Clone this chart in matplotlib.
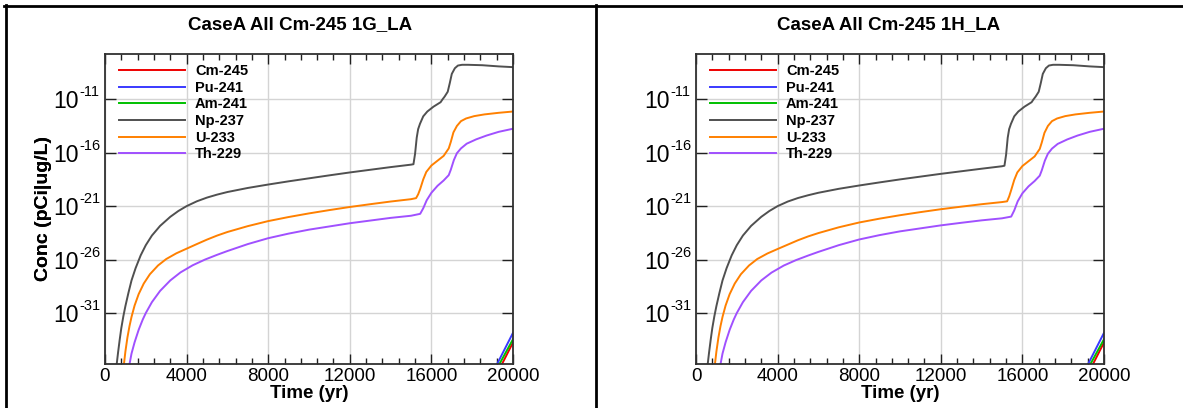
import matplotlib
matplotlib.use("Agg")
import matplotlib.pyplot as plt
from matplotlib.lines import Line2D
from matplotlib.ticker import FixedLocator, MultipleLocator, NullFormatter
import numpy as np

plt.rcParams['font.family'] = ['Liberation Sans', 'DejaVu Sans']

titles = ["CaseA All Cm-245 1G_LA", "CaseA All Cm-245 1H_LA"]
nuclides = ["Cm-245", "Pu-241", "Am-241", "Np-237", "U-233", "Th-229"]
colors = ["#ee0000", "#3a3aff", "#00c000", "#505050", "#ff8000", "#a050ff"]

# ---- times (yr) and log10 concentrations; panel 1G ----
cm_t = [19400, 20000]
cm_g = [-36.0, -33.75]
pu_t = [19160, 20000]
pu_g = [-36.0, -32.85]
am_t = [19270, 20000]
am_g = [-36.0, -33.45]

np_t = [560, 640, 720, 800, 900, 1000, 1150, 1300, 1500, 1750, 2000, 2300, 2700, 3200, 3600,
        4000, 4500, 5000, 5500, 6000, 7000, 8000, 9000, 10000, 11000, 12000, 13000, 14000,
        15000, 15120, 15200, 15280, 15350, 15440, 15600, 15800, 16100, 16450, 16550, 16650,
        16800, 16900, 17000, 17150, 17300, 17500, 17800, 18500, 19300, 20000]
np_g = [-36.0, -34.7, -33.5, -32.4, -31.3, -30.35, -29.1, -27.95, -26.8, -25.6, -24.65, -23.75,
        -22.85, -22.0, -21.45, -21.0, -20.55, -20.2, -19.92, -19.68, -19.3, -18.98, -18.68,
        -18.4, -18.12, -17.85, -17.6, -17.35, -17.12, -17.08, -16.1, -14.6, -13.8, -13.3, -12.6,
        -12.15, -11.7, -11.28, -11.0, -10.75, -10.3, -9.5, -8.63, -8.1, -7.85, -7.78, -7.78,
        -7.82, -7.93, -8.0]

u_t = [915, 1000, 1100, 1200, 1300, 1450, 1650, 1900, 2200, 2600, 3000, 3500, 4000, 4500, 5000,
       5500, 6000, 7000, 8000, 9000, 10000, 11000, 12000, 13000, 14000, 15000, 15250, 15350,
       15450, 15600, 15750, 16000, 16300, 16600, 16850, 16950, 17080, 17250, 17450, 17700,
       18100, 18600, 19300, 20000]
u_g = [-36.0, -34.6, -33.28, -32.23, -31.36, -30.3, -29.23, -28.24, -27.37, -26.55, -25.95,
       -25.41, -24.98, -24.55, -24.13, -23.75, -23.42, -22.87, -22.4, -22.02, -21.68, -21.37,
       -21.08, -20.82, -20.57, -20.35, -20.25, -19.9, -19.4, -18.5, -17.8, -17.2, -16.75, -16.3,
       -15.6, -15.0, -14.1, -13.5, -13.05, -12.8, -12.58, -12.42, -12.27, -12.15]

th_t = [1180, 1300, 1450, 1650, 1850, 2000, 2300, 2700, 3200, 3700, 4300, 4900, 5500, 6000,
        7000, 8000, 9000, 10000, 11000, 12000, 13000, 14000, 15000, 15450, 15600, 15770, 16000,
        16300, 16600, 16850, 16950, 17100, 17250, 17450, 17730, 18200, 18700, 19300, 20000]
th_g = [-36.0, -34.79, -33.74, -32.57, -31.61, -31.0, -29.98, -28.93, -27.95, -27.2, -26.53,
        -26.0, -25.55, -25.2, -24.55, -24.0, -23.57, -23.2, -22.9, -22.6, -22.35, -22.1, -21.9,
        -21.72, -21.2, -20.45, -19.75, -19.1, -18.6, -18.1, -17.6, -16.7, -16.05, -15.6, -15.16,
        -14.75, -14.4, -14.05, -13.76]

# ---- panel 1H ----
cm_h = [-36.0, -33.75]
pu_h = [-36.0, -32.85]
am_h = [-36.0, -33.45]
np_h = [-36.0, -34.7, -33.5, -32.4, -31.3, -30.35, -29.1, -27.95, -26.8, -25.6, -24.65, -23.75,
        -22.85, -22.0, -21.45, -21.0, -20.57, -20.24, -19.98, -19.75, -19.38, -19.07, -18.78,
        -18.5, -18.24, -17.98, -17.74, -17.5, -17.27, -17.22, -16.2, -14.6, -13.8, -13.3, -12.6,
        -12.15, -11.7, -11.28, -11.0, -10.75, -10.3, -9.5, -8.63, -8.1, -7.85, -7.78, -7.78,
        -7.82, -7.93, -8.0]
u_h = [-36.0, -34.6, -33.28, -32.23, -31.36, -30.3, -29.23, -28.24, -27.37, -26.55, -25.95,
       -25.43, -25.01, -24.6, -24.19, -23.83, -23.52, -22.98, -22.53, -22.17, -21.85, -21.56,
       -21.29, -21.05, -20.82, -20.62, -20.55, -20.1, -19.5, -18.55, -17.85, -17.25, -16.8,
       -16.35, -15.65, -15.05, -14.15, -13.5, -13.05, -12.8, -12.58, -12.42, -12.27, -12.15]
th_h = [-36.0, -34.79, -33.74, -32.57, -31.61, -31.0, -29.98, -28.93, -27.95, -27.22, -26.56,
        -26.05, -25.62, -25.28, -24.65, -24.12, -23.71, -23.36, -23.08, -22.8, -22.56, -22.33,
        -22.14, -21.98, -21.4, -20.55, -19.8, -19.15, -18.65, -18.15, -17.65, -16.75, -16.1,
        -15.62, -15.18, -14.76, -14.4, -14.05, -13.76]

series_g = [(cm_t, cm_g), (pu_t, pu_g), (am_t, am_g), (np_t, np_g), (u_t, u_g), (th_t, th_g)]
series_h = [(cm_t, cm_h), (pu_t, pu_h), (am_t, am_h), (np_t, np_h), (u_t, u_h), (th_t, th_h)]

x_ticks = [0, 4000, 8000, 12000, 16000, 20000]
y_exps = [-31, -26, -21, -16, -11]
y_lim = (10 ** -35.72, 10 ** -6.77)

W, H = 1183, 408
fig = plt.figure(figsize=(W / 100, H / 100), dpi=100)
PT = 0.72  # points per pixel


def fx(px):
    return px / W


def fy(py):
    return 1 - py / H


ax_left = [105, 696]
ax_w = 408
ax_top, ax_bot = 54, 363.5
panel_left = [5, 595]
panel_right = [595, 1183]

for i, (series, title) in enumerate(zip([series_g, series_h], titles)):
    ax = fig.add_axes([fx(ax_left[i]), fy(ax_bot), ax_w / W, (ax_bot - ax_top) / H])
    for (t, v), name, c in zip(series, nuclides, colors):
        ax.plot(t, 10.0 ** np.array(v), color=c, lw=1.4, label=name)
    ax.set_yscale('log')
    ax.set_xlim(0, 20000)
    ax.set_ylim(*y_lim)
    ax.xaxis.set_major_locator(FixedLocator(x_ticks))
    ax.xaxis.set_minor_locator(MultipleLocator(800))
    ax.yaxis.set_major_locator(FixedLocator([10.0 ** e for e in y_exps]))
    ax.yaxis.set_minor_locator(FixedLocator([]))
    ax.yaxis.set_major_formatter(NullFormatter())
    ax.grid(True, which='major', color='#d4d4d4', lw=1.0)
    ax.tick_params(axis='both', which='both', direction='in', top=True, right=True,
                   color='#202020')
    ax.tick_params(axis='x', which='major', length=7, width=1, labelsize=13.5, pad=3)
    ax.tick_params(axis='x', which='minor', length=4, width=1)
    ax.tick_params(axis='y', which='major', length=8, width=1)
    for s in ax.spines.values():
        s.set_color('#303030')
        s.set_linewidth(1.3)
    # y tick labels: "10" with a raised exponent
    for e in y_exps:
        ax.annotate('10', xy=(0, 10.0 ** e), xycoords=('axes fraction', 'data'),
                    xytext=(-26 * PT, -9 * PT), textcoords='offset points',
                    ha='right', va='baseline', fontsize=16.5)
        ax.annotate('%d' % e, xy=(0, 10.0 ** e), xycoords=('axes fraction', 'data'),
                    xytext=(-26 * PT, 3 * PT), textcoords='offset points',
                    ha='left', va='baseline', fontsize=10.5)
    ax.set_xlabel('Time (yr)', fontsize=13.5, fontweight='bold', labelpad=0)
    ax.set_ylabel('Conc (pCi|ug/L)', fontsize=14, fontweight='bold')
    ax.yaxis.set_label_coords(-(ax_left[i] - 43) / ax_w, 0.5)
    ax.yaxis.label.set_va('center')
    ax.legend(loc='upper left', bbox_to_anchor=(0.01, 1.0), frameon=False,
              prop={'weight': 'bold', 'size': 10.5}, handlelength=4.5,
              handletextpad=0.7, labelspacing=0.18, borderpad=0.6, borderaxespad=0.1)
    cx = (panel_left[i] + panel_right[i]) / 2
    fig.text(fx(cx), fy(25), title, ha='center', va='center', fontsize=13.5,
             fontweight='bold')

# outer table frame
fig.add_artist(Line2D([fx(4), 1], [fy(5.5), fy(5.5)], color='black', lw=2,
                      transform=fig.transFigure))
for px in [5.5, 595.5]:
    fig.add_artist(Line2D([fx(px), fx(px)], [fy(5), 0], color='black', lw=2,
                          transform=fig.transFigure))

fig.savefig('out.png', dpi=100)
